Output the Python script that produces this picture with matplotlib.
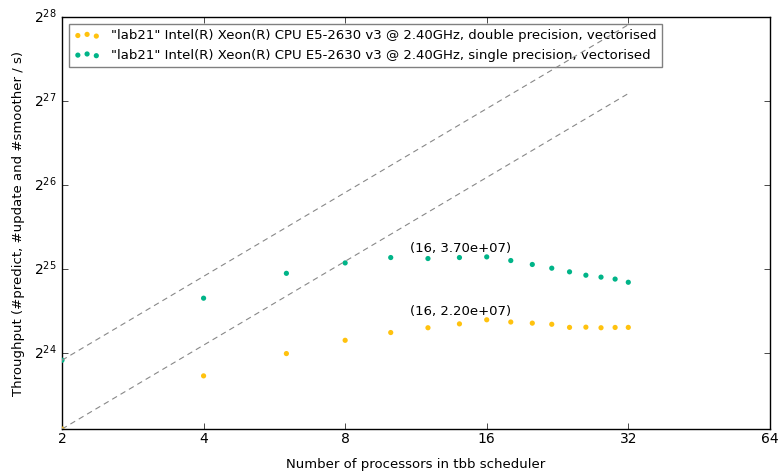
import matplotlib
matplotlib.use("Agg")
import matplotlib.pyplot as plt
import matplotlib.ticker as mticker
import numpy as np

plt.style.use("classic")
plt.rcParams["font.family"] = ["DejaVu Sans"]
plt.rcParams["mathtext.fontset"] = "dejavusans"

processors = [2, 4, 6, 8, 10, 12, 14, 16, 18, 20, 22, 24, 26, 28, 30, 32]
double_prec = [8.92e6, 13.84e6, 16.64e6, 18.57e6, 19.8e6, 20.6e6, 21.27e6, 22.0e6,
               21.6e6, 21.4e6, 21.2e6, 20.66e6, 20.7e6, 20.6e6, 20.65e6, 20.66e6]
single_prec = [15.75e6, 26.3e6, 32.3e6, 35.2e6, 36.8e6, 36.5e6, 36.8e6, 37.0e6,
               35.9e6, 34.75e6, 33.7e6, 32.7e6, 31.8e6, 31.3e6, 30.8e6, 30.0e6]
labels = ['"lab21" Intel(R) Xeon(R) CPU E5-2630 v3 @ 2.40GHz, double precision, vectorised',
          '"lab21" Intel(R) Xeon(R) CPU E5-2630 v3 @ 2.40GHz, single precision, vectorised']
xticks = [2, 4, 8, 16, 32, 64]
yticks_exp = [24, 25, 26, 27, 28]
peak_x = 16

colors = ["#ffc20e", "#00b488"]
FS = 9.5

fig = plt.figure(figsize=(7.8, 4.74), dpi=100, facecolor="white")
ax = fig.add_axes([0.0795, 0.0949, 0.9075, 0.869])
ax.set_facecolor("white")

for vals, lab, c in zip([double_prec, single_prec], labels, colors):
    ax.scatter(processors, vals, s=14, color=c, edgecolors="none", label=lab, zorder=3)
    # ideal linear scaling line
    xs = [processors[0], processors[-1]]
    ys = [vals[0], vals[0] * processors[-1] / processors[0]]
    ax.plot(xs, ys, linestyle="--", dashes=(4, 3), color="#888888", linewidth=0.8, zorder=6)
    i = processors.index(peak_x)
    ax.annotate("(%d, %.2e)" % (peak_x, vals[i]), xy=(peak_x, vals[i]),
                xytext=(-19, 6), textcoords="offset points",
                ha="center", va="center", fontsize=FS)

ax.set_xscale("log", base=2)
ax.set_yscale("log", base=2)
ax.set_xlim(2, 64)
ax.set_ylim(double_prec[0], 2 ** 28)
ax.set_xticks(xticks)
ax.set_xticklabels([str(t) for t in xticks])
ax.xaxis.set_minor_locator(mticker.NullLocator())
ax.set_yticks([2.0 ** e for e in yticks_exp])
ax.set_yticklabels(["$2^{%d}$" % e for e in yticks_exp])
ax.yaxis.set_minor_locator(mticker.NullLocator())
ax.tick_params(axis="both", which="major", labelsize=FS + 0.5, direction="in", top=True, right=True, pad=4)
ax.tick_params(axis="x", pad=2)

ax.set_xlabel("Number of processors in tbb scheduler", fontsize=FS, labelpad=9)
ax.set_ylabel("Throughput (#predict, #update and #smoother / s)", fontsize=FS, labelpad=6)

leg = ax.legend(loc="upper left", scatterpoints=3, fontsize=FS, fancybox=False,
                borderaxespad=0.5)
leg.get_frame().set_edgecolor("grey")
leg.set_zorder(5)

fig.savefig("out.png", dpi=100, facecolor="white")
